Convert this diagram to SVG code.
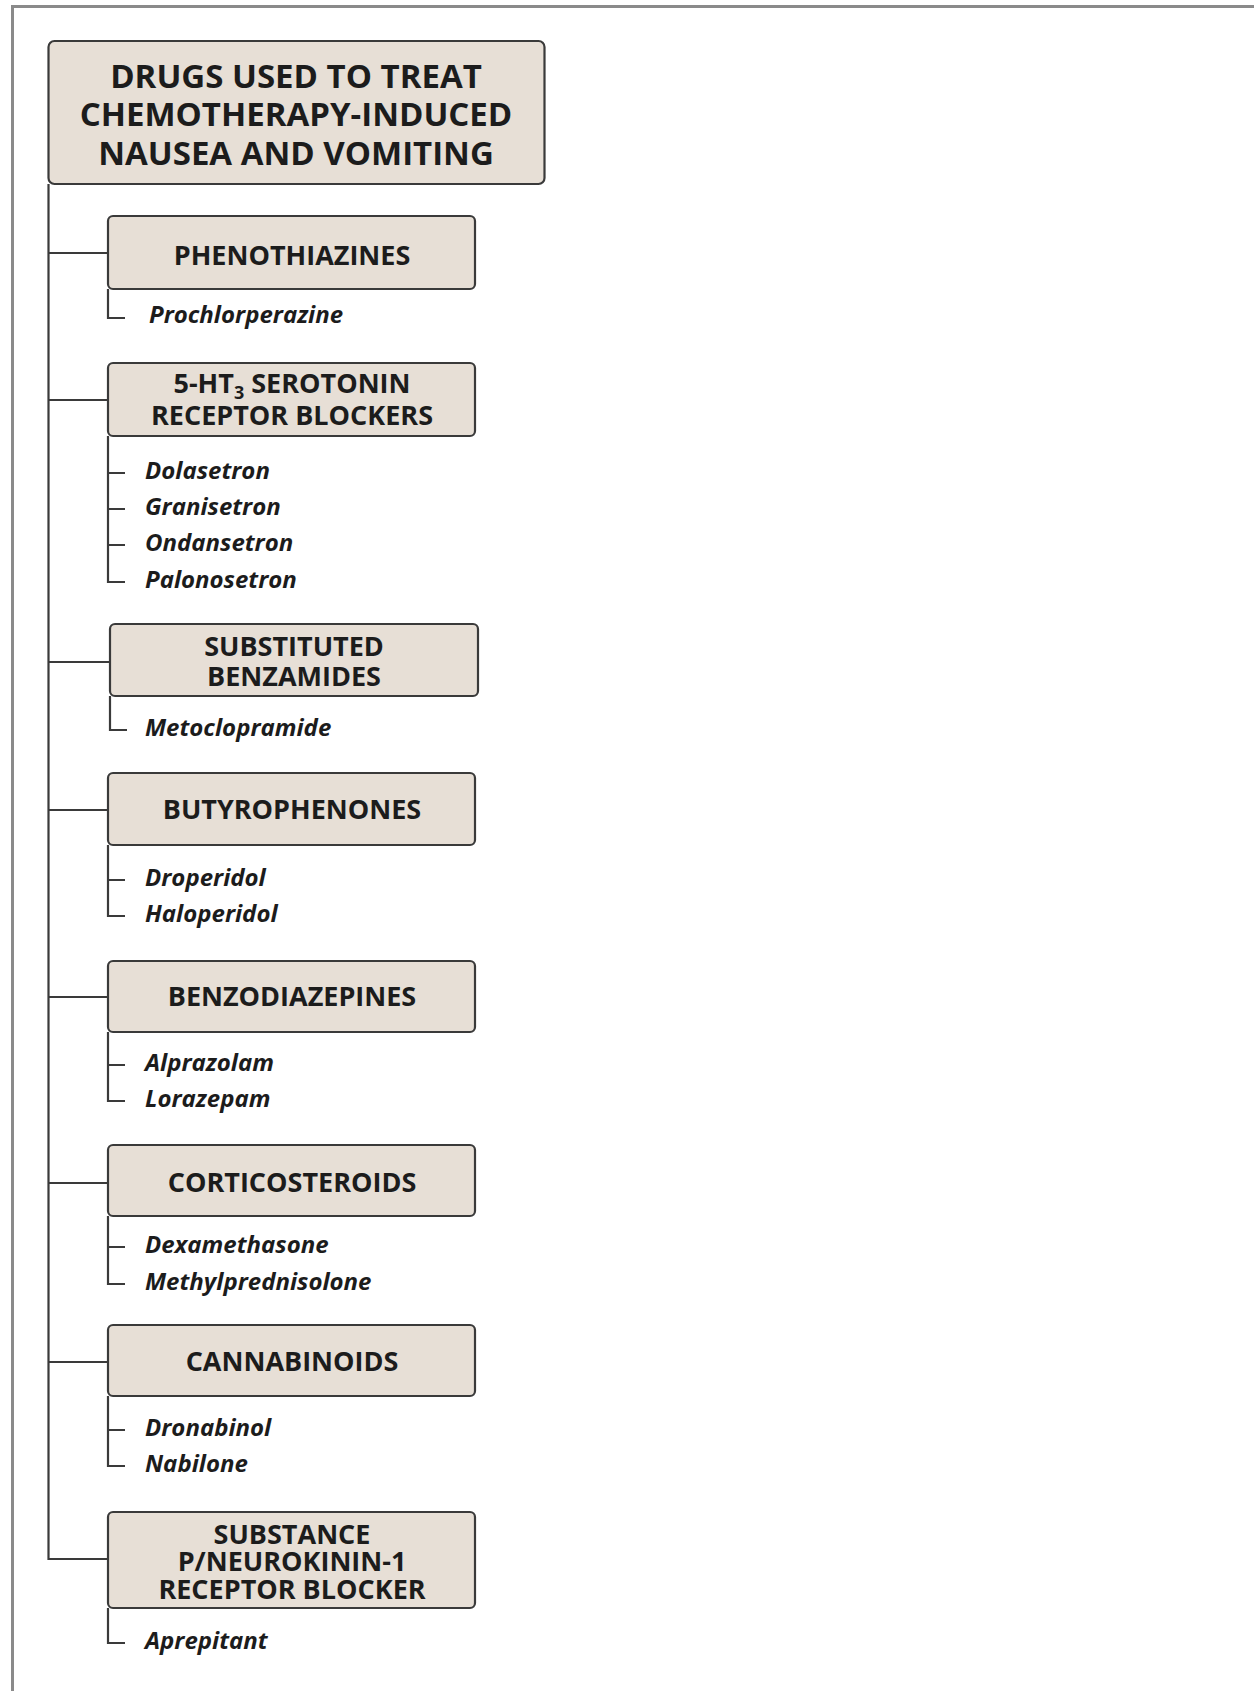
<svg xmlns="http://www.w3.org/2000/svg" width="1254" height="1691" viewBox="0 0 1254 1691">
<style>
.box{fill:#e7dfd6;stroke:#3a3a3a;stroke-width:2.2}
.cat{font-family:"Open Sans","Liberation Sans",sans-serif;font-weight:700;font-size:27px;fill:#1c1c1c;text-anchor:middle}
.title{font-family:"Open Sans","Liberation Sans",sans-serif;font-weight:700;font-size:33px;fill:#1c1c1c;text-anchor:middle}
.drug{font-family:"Open Sans","Liberation Sans",sans-serif;font-weight:700;font-style:italic;font-size:24px;fill:#1c1c1c}
.ln{fill:none;stroke:#3a3a3a;stroke-width:2.2}
</style>
<rect width="1254" height="1691" fill="#fff"/>
<path d="M12.5 1691 V6.5 H1254" fill="none" stroke="#8a8a8a" stroke-width="3"/>

<g id="connectors">
<path class="ln" d="M48.5 184 V1559 H108"/>
<path class="ln" d="M48.5 253 H108"/>
<path class="ln" d="M48.5 400 H108"/>
<path class="ln" d="M48.5 662 H110"/>
<path class="ln" d="M48.5 810 H108"/>
<path class="ln" d="M48.5 997 H108"/>
<path class="ln" d="M48.5 1183 H108"/>
<path class="ln" d="M48.5 1362 H108"/>
<path class="ln" d="M108 289 V318 H125"/>
<path class="ln" d="M108 436 V582 H125 M108 473 H125 M108 509 H125 M108 545 H125"/>
<path class="ln" d="M110 696 V730 H127"/>
<path class="ln" d="M108 845 V916 H125 M108 880 H125"/>
<path class="ln" d="M108 1032 V1101 H125 M108 1065 H125"/>
<path class="ln" d="M108 1216 V1284 H125 M108 1247 H125"/>
<path class="ln" d="M108 1396 V1466 H125 M108 1430 H125"/>
<path class="ln" d="M108 1608 V1643 H125"/>
</g>

<g id="title">
<rect class="box" x="48.5" y="41" width="496" height="143" rx="6"/>
<text class="title" x="296" y="88">DRUGS USED TO TREAT</text>
<text class="title" x="296" y="126">CHEMOTHERAPY-INDUCED</text>
<text class="title" x="296" y="165">NAUSEA AND VOMITING</text>
</g>

<g id="phenothiazines">
<rect class="box" x="108" y="216" width="367" height="73" rx="5"/>
<text class="cat" x="292" y="265">PHENOTHIAZINES</text>
<text class="drug" x="149" y="323">Prochlorperazine</text>
</g>

<g id="serotonin">
<rect class="box" x="108" y="363" width="367" height="73" rx="5"/>
<text class="cat" x="292" y="393">5-HT<tspan font-size="18" dy="6">3</tspan><tspan dy="-6"> SEROTONIN</tspan></text>
<text class="cat" x="292" y="425">RECEPTOR BLOCKERS</text>
<text class="drug" x="145" y="479">Dolasetron</text>
<text class="drug" x="145" y="515">Granisetron</text>
<text class="drug" x="145" y="551">Ondansetron</text>
<text class="drug" x="145" y="588">Palonosetron</text>
</g>

<g id="benzamides">
<rect class="box" x="110" y="624" width="368" height="72" rx="5"/>
<text class="cat" x="294" y="656">SUBSTITUTED</text>
<text class="cat" x="294" y="686">BENZAMIDES</text>
<text class="drug" x="145" y="736">Metoclopramide</text>
</g>

<g id="butyrophenones">
<rect class="box" x="108" y="773" width="367" height="72" rx="5"/>
<text class="cat" x="292" y="819">BUTYROPHENONES</text>
<text class="drug" x="145" y="886">Droperidol</text>
<text class="drug" x="145" y="922">Haloperidol</text>
</g>

<g id="benzodiazepines">
<rect class="box" x="108" y="961" width="367" height="71" rx="5"/>
<text class="cat" x="292" y="1006">BENZODIAZEPINES</text>
<text class="drug" x="145" y="1071">Alprazolam</text>
<text class="drug" x="145" y="1107">Lorazepam</text>
</g>

<g id="corticosteroids">
<rect class="box" x="108" y="1145" width="367" height="71" rx="5"/>
<text class="cat" x="292" y="1192">CORTICOSTEROIDS</text>
<text class="drug" x="145" y="1253">Dexamethasone</text>
<text class="drug" x="145" y="1290">Methylprednisolone</text>
</g>

<g id="cannabinoids">
<rect class="box" x="108" y="1325" width="367" height="71" rx="5"/>
<text class="cat" x="292" y="1371">CANNABINOIDS</text>
<text class="drug" x="145" y="1436">Dronabinol</text>
<text class="drug" x="145" y="1472">Nabilone</text>
</g>

<g id="substance-p">
<rect class="box" x="108" y="1512" width="367" height="96" rx="5"/>
<text class="cat" x="292" y="1544">SUBSTANCE</text>
<text class="cat" x="292" y="1571">P/NEUROKININ-1</text>
<text class="cat" x="292" y="1599">RECEPTOR BLOCKER</text>
<text class="drug" x="145" y="1649">Aprepitant</text>
</g>
</svg>
